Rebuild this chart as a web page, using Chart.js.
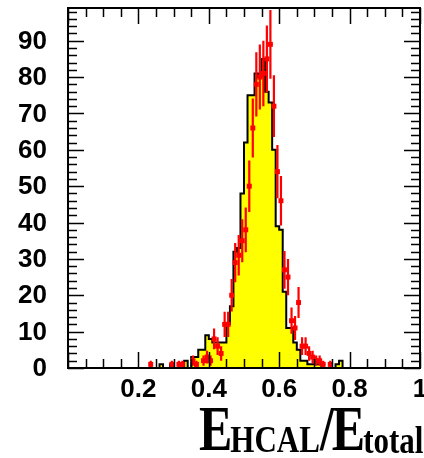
<!DOCTYPE html>
<html>
<head>
<meta charset="utf-8">
<script src="https://cdn.jsdelivr.net/npm/chart.js@4.4.0/dist/chart.umd.min.js"></script>
<style>
  html, body { margin: 0; padding: 0; background: #fff; }
</style>
</head>
<body>
<canvas id="histChart" width="424" height="458"></canvas>
<script>
// histogram binning: 100 bins from 0 to 1
const binWidth = 0.01;
const binCount = 100;

// MC histogram (yellow), non-empty bins by bin index
const mcBins   = [27, 30, 34, 36, 37, 38, 39, 40, 41, 42, 43, 44, 45, 46, 47, 48, 49, 50, 51, 52, 53, 54, 55, 56, 57, 58, 59, 60, 61, 62, 63, 64, 65, 66, 67, 68, 69, 70, 71, 72, 77, 78];
const mcCounts = [1, 1, 2, 3, 3, 5, 5, 9, 8, 7, 7, 7, 7, 12, 17, 32, 33, 48, 62, 75, 75, 81, 80, 85, 76, 73, 60, 39, 38, 21, 11, 11, 7, 5, 2, 2, 1, 1, 1, 1, 1, 2];

// data points (red), bin centres and counts
const dataX = [0.235, 0.295, 0.315, 0.325, 0.355, 0.365, 0.385, 0.395, 0.405, 0.415, 0.425, 0.435, 0.445, 0.455, 0.465, 0.475, 0.485, 0.495, 0.505, 0.515, 0.525, 0.535, 0.545, 0.555, 0.565, 0.575, 0.585, 0.595, 0.605, 0.615, 0.625, 0.635, 0.645, 0.655, 0.665, 0.675, 0.685, 0.695, 0.705, 0.715, 0.725, 0.745];
const dataY = [1, 1, 1, 1, 2, 1, 2, 3, 2, 8, 6, 4, 12, 12, 20, 29, 31, 35, 38, 50, 66, 78, 80, 81, 85, 89, 72, 54, 46, 27, 25, 13, 11, 18, 6, 6, 4, 3, 2, 2, 1, 1];

// axis ticks
const xTickValues = [0.2, 0.4, 0.6, 0.8, 1];
const xTickLabels = ['0.2', '0.4', '0.6', '0.8', '1'];
const yTickValues = [0, 10, 20, 30, 40, 50, 60, 70, 80, 90];

// step outline points at bin edges
function buildSteps() {
    const counts = new Array(binCount).fill(0);
    mcBins.forEach((b, i) => { counts[b] = mcCounts[i]; });
    const pts = [];
    for (let i = 0; i <= binCount; i++) {
        pts.push({ x: i * binWidth, y: counts[Math.min(i, binCount - 1)] });
    }
    return pts;
}

const dataPoints = dataX.map((x, i) => ({ x: x, y: dataY[i] }));

// error bars: sqrt(N) vertical, bin width horizontal
const errorBars = {
    id: 'errorBars',
    afterDatasetsDraw(chart) {
        const ctx = chart.ctx;
        const xs = chart.scales.x, ys = chart.scales.y;
        const area = chart.chartArea;
        ctx.save();
        ctx.beginPath();
        ctx.rect(area.left, area.top, area.right - area.left, area.bottom - area.top);
        ctx.clip();
        ctx.strokeStyle = '#ff0000';
        ctx.lineWidth = 2.2;
        dataPoints.forEach(p => {
            const err = Math.sqrt(p.y);
            const px = xs.getPixelForValue(p.x);
            const py = ys.getPixelForValue(p.y);
            ctx.beginPath();
            ctx.moveTo(px, ys.getPixelForValue(p.y - err));
            ctx.lineTo(px, ys.getPixelForValue(p.y + err));
            ctx.moveTo(xs.getPixelForValue(p.x - binWidth / 2), py);
            ctx.lineTo(xs.getPixelForValue(p.x + binWidth / 2), py);
            ctx.stroke();
        });
        ctx.restore();
    }
};

// root style frame with inward ticks on all sides
const frame = {
    id: 'frame',
    afterDraw(chart) {
        const ctx = chart.ctx;
        const xs = chart.scales.x, ys = chart.scales.y;
        const a = chart.chartArea;
        ctx.save();
        ctx.strokeStyle = '#000';
        ctx.lineWidth = 2;
        ctx.strokeRect(a.left, a.top, a.right - a.left, a.bottom - a.top);
        ctx.beginPath();
        for (let v = 0; v <= 1.0001; v += 0.05) {
            const px = Math.round(xs.getPixelForValue(v)) + 0.5;
            const len = Math.abs(v / 0.2 - Math.round(v / 0.2)) < 1e-6 ? 16 : 9;
            ctx.moveTo(px, a.bottom); ctx.lineTo(px, a.bottom - len);
            ctx.moveTo(px, a.top); ctx.lineTo(px, a.top + len);
        }
        for (let v = 0; v <= 99; v += 2) {
            const py = Math.round(ys.getPixelForValue(v)) + 0.5;
            const len = v % 10 === 0 ? 16 : 9;
            ctx.moveTo(a.left, py); ctx.lineTo(a.left + len, py);
            ctx.moveTo(a.right, py); ctx.lineTo(a.right - len, py);
        }
        ctx.lineWidth = 1.5;
        ctx.stroke();

        // tick labels
        ctx.fillStyle = '#000';
        ctx.font = 'bold 26px "Liberation Sans", Arial, sans-serif';
        ctx.textAlign = 'right';
        ctx.textBaseline = 'middle';
        yTickValues.forEach(v => {
            ctx.fillText(String(v), 47, ys.getPixelForValue(v) + 1);
        });
        ctx.textAlign = 'center';
        xTickValues.forEach((v, i) => {
            ctx.fillText(xTickLabels[i], xs.getPixelForValue(v), 390);
        });

        // axis title E_HCAL/E_total, stretched like the original
        const parts = [
            { t: 'E', size: 50, dy: 0 },
            { t: 'HCAL', size: 31, dy: 1.5 },
            { t: '/', size: 50, dy: 0 },
            { t: 'E', size: 50, dy: 0 },
            { t: 'total', size: 31, dy: 2.5 }
        ];
        let x = 199;
        ctx.textAlign = 'left';
        ctx.textBaseline = 'alphabetic';
        parts.forEach(p => {
            ctx.font = 'bold ' + p.size + 'px "Liberation Serif", "Times New Roman", serif';
            ctx.save();
            ctx.translate(x, 450 + p.dy);
            ctx.scale(1, 1.25);
            ctx.fillText(p.t, 0, 0);
            ctx.restore();
            x += ctx.measureText(p.t).width - (p.size > 40 ? 2 : 0);
        });
        ctx.restore();
    }
};

function createChart() {
    const ctx = document.getElementById('histChart').getContext('2d');
    new Chart(ctx, {
        type: 'line',
        data: {
            datasets: [
                {
                    type: 'scatter',
                    label: 'data',
                    data: dataPoints,
                    pointStyle: 'rect',
                    pointRadius: 3.5,
                    backgroundColor: '#ff0000',
                    borderColor: '#ff0000',
                    borderWidth: 0
                },
                {
                    label: 'MC',
                    data: buildSteps(),
                    stepped: 'after',
                    fill: 'origin',
                    backgroundColor: '#ffff00',
                    borderColor: '#000000',
                    borderWidth: 2,
                    pointRadius: 0
                }
            ]
        },
        options: {
            responsive: false,
            animation: false,
            layout: { padding: { left: 68, top: 8, right: 3, bottom: 90 } },
            plugins: {
                legend: { display: false },
                tooltip: { enabled: false }
            },
            scales: {
                x: { type: 'linear', min: 0, max: 1, display: false },
                y: { type: 'linear', min: 0, max: 99, display: false }
            }
        },
        plugins: [errorBars, frame]
    });
}

createChart();
</script>
</body>
</html>
